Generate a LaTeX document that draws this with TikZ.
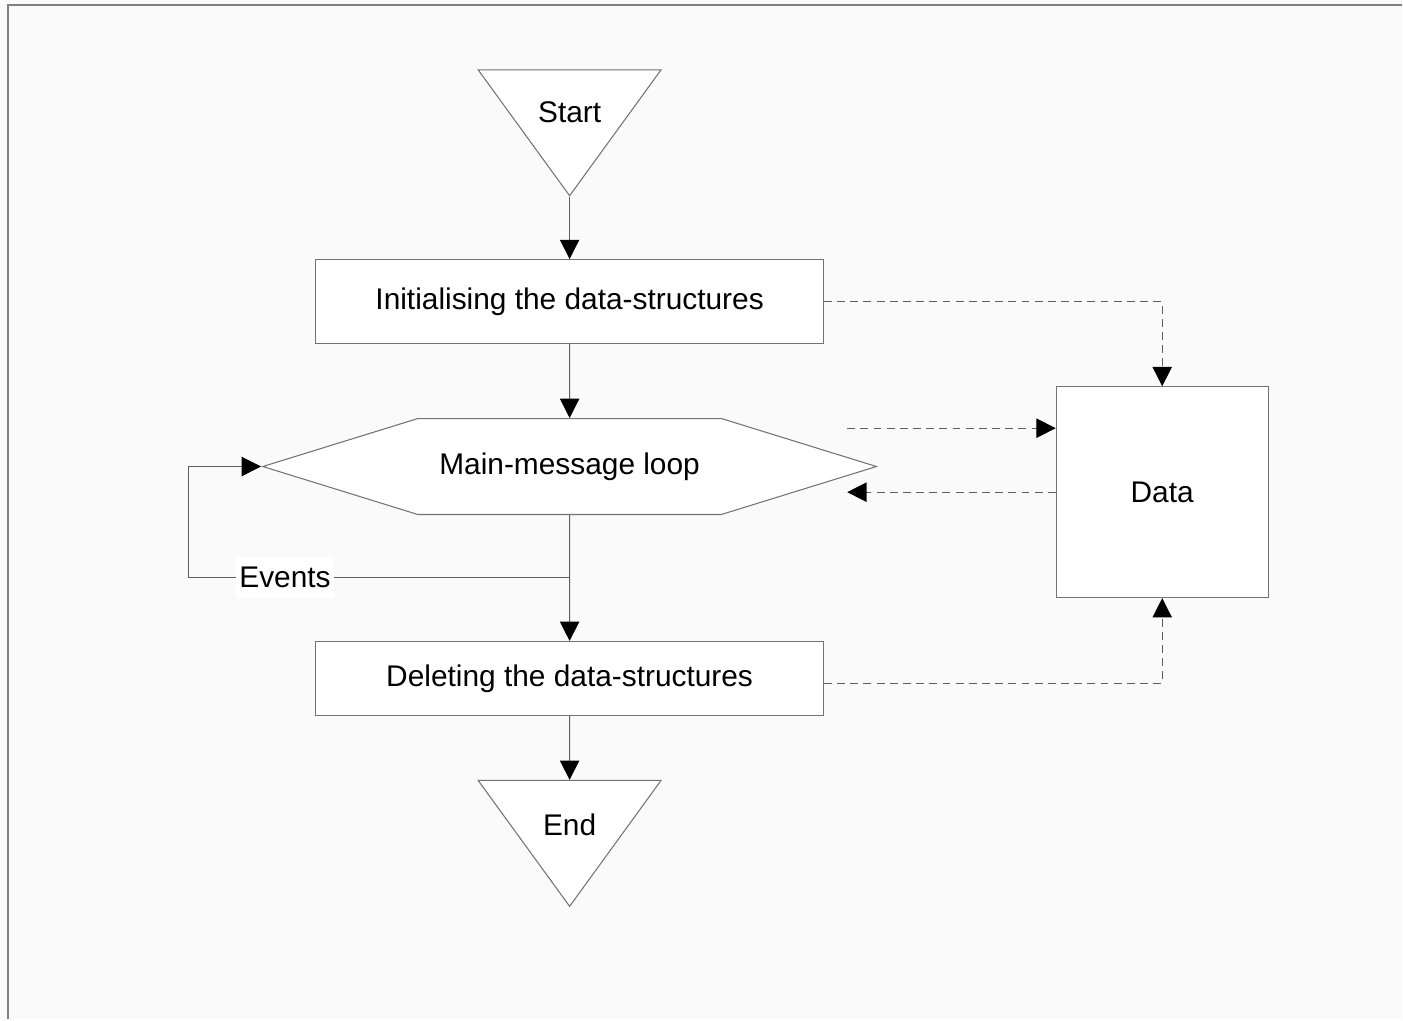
\documentclass[tikz,border=0pt]{standalone}
\usepackage{fontspec}
\setmainfont{Liberation Sans}
\usetikzlibrary{calc,positioning,arrows.meta,shapes.geometric,shapes.symbols}
\definecolor{paper}{RGB}{250,250,250}
\definecolor{framegray}{RGB}{128,128,128}
\definecolor{boxgray}{RGB}{115,115,115}
\definecolor{linegray}{RGB}{95,95,95}
\newcommand*\flowfont{\fontsize{17}{20}\selectfont}
\tikzset{
	>={Triangle[length=11pt,width=11pt,color=black]},
	terminal/.style={
		isosceles triangle,
		isosceles triangle stretches,
		shape border rotate=270,
		fill=white,
		draw=boxgray, line width=0.6pt,
		minimum width=3.66cm,
		minimum height=2.52cm,
		inner sep=0pt,
		text height=0.7cm,
		font=\flowfont},
	prozess/.style={
		rectangle,
		fill=white,
		draw=boxgray, line width=0.6pt,
		minimum width=10.16cm,
		font=\flowfont},
	loopbox/.style={
		signal, signal to=west and east,
		signal pointer angle=34.4,
		fill=white,
		draw=boxgray, line width=0.6pt,
		minimum width=12.28cm,
		minimum height=1.92cm,
		font=\flowfont},
	datastore/.style={
		rectangle,
		fill=white,
		draw=boxgray, line width=0.6pt,
		minimum width=4.24cm,
		minimum height=4.22cm,
		font=\flowfont},
	line/.style={draw=linegray, line width=0.6pt, ->},
	dashline/.style={line, dash pattern=on 4.5pt off 3pt},
	eventtag/.style={fill=white, inner xsep=2pt, inner ysep=5.5pt, font=\flowfont},
}

\begin{document}
\begin{tikzpicture}
% paper and frame
\fill[paper] (0,0) rectangle (28.06,-20.4);
\draw[framegray, line width=1.1pt] (0.16,-20.4) -- (0.16,-0.1) -- (28.06,-0.1);

\node[terminal] (start) at (11.4,-2.1) {Start};
\node[prozess, minimum height=1.68cm, below=1.24cm of start.apex] (init)
	{Initialising the data-structures};
\node[loopbox, below=1.48cm of init] (loop) {Main-message loop};
\node[prozess, minimum height=1.48cm, below=2.52cm of loop] (delete)
	{Deleting the data-structures};
\node[terminal, below=1.28cm of delete, anchor=north] (end) {End};
\node[datastore] (data) at (23.26,-9.85) {Data};

% main flow
\draw[line] (start.apex) -- (init);
\draw[line] (init) -- (loop);
\draw[line] (loop) -- (delete);
\draw[line] (delete) -- (end);

% events back into the loop
\coordinate (evsplit) at ($(loop.south)!0.496!(delete.north)$);
\coordinate (evcorner) at ([xshift=-1.46cm]loop.west);
\draw[line] (evsplit) -| node[eventtag, pos=0.373] (events) {Events}
	(evcorner) -- (loop.west);

% data access
\coordinate (tap) at ([xshift=-0.62cm]loop.east);
\coordinate (datain) at ([yshift=-0.84cm]data.north west);
\draw[dashline] (init.east) -| (data.north);
\draw[dashline] ([yshift=-0.1cm]delete.east) -| (data.south);
\draw[dashline] (tap |- datain) -- (datain);
\draw[dashline] (data.west) -- (tap |- data.west);
\end{tikzpicture}
\end{document}
